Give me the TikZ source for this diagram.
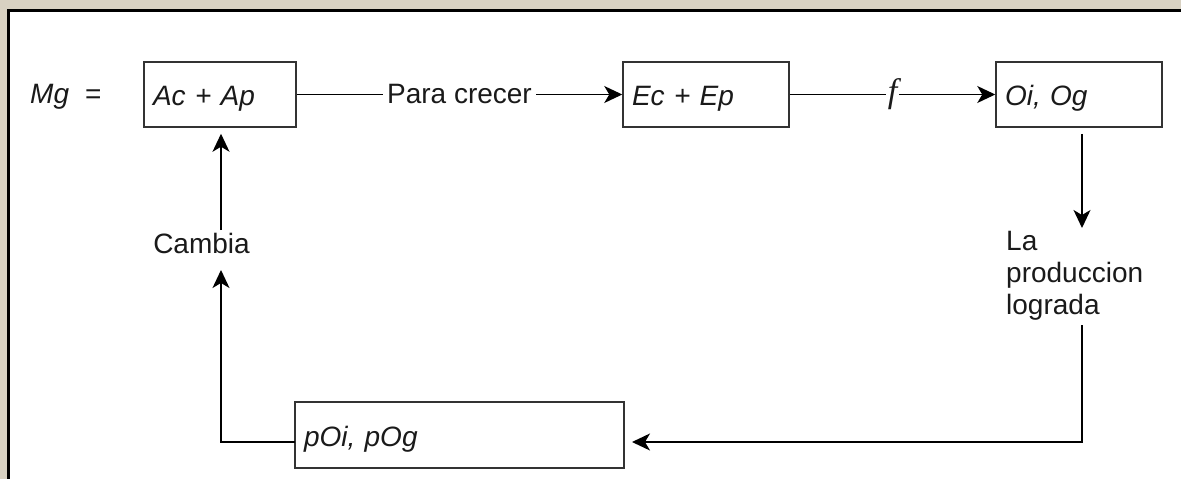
\documentclass[tikz,border=0pt]{standalone}
\usepackage{fontspec}
\setmainfont{Liberation Sans}
\newfontfamily\serifit{Liberation Serif}
\usetikzlibrary{arrows.meta}
\definecolor{bgbeige}{HTML}{D8D1C2}
\definecolor{boxline}{HTML}{333333}
\definecolor{txt}{HTML}{1A1A1A}
\tikzset{
  box/.style={draw=boxline, line width=1.5pt, minimum height=65pt, inner xsep=9pt, inner ysep=0pt,
    text height=24pt, text depth=2pt,
    align=left, font=\fontsize{28}{33}\selectfont\itshape, text=txt},
  lbl/.style={font=\fontsize{28}{32}\selectfont, inner sep=0pt, text=txt},
  onlbl/.style={lbl, fill=white, inner xsep=4pt, inner ysep=2pt},
  conn/.style={draw=black, line width=1.4pt},
  arr/.style={conn, -{Stealth[length=18pt,width=17pt,inset=5pt]}},
}
\begin{document}
\begin{tikzpicture}[x=1pt,y=-1pt]
  \useasboundingbox (0,0) rectangle (1181,479);
  \clip (0,0) rectangle (1181,479);
  \fill[bgbeige] (-10,-10) rectangle (1200,500);
  \fill[white] (8,10) rectangle (1200,500);
  \draw[line width=3pt, black] (1200,10) -- (8,10) -- (8,500);

  \node[lbl, anchor=west] (mg) at (30,97) {\textit{Mg}\hspace{16pt}=};

  \node[box, text width=134pt] (ac) at (220,94.5) {Ac + Ap};
  \node[box, text width=148pt] (ec) at (706,94.5) {Ec + Ep};
  \node[box, text width=148pt] (oi) at (1079,94.5) {Oi, Og};
  \node[box, text width=311pt, minimum height=66pt] (poi) at (459.5,435) {pOi, pOg};

  \draw[arr] (ac.east) -- node[onlbl] (pc) {Para crecer} (ec.west);
  \draw[arr] (ec.east) -- node[onlbl, inner xsep=2pt, font=\fontsize{34}{36}\selectfont\serifit\itshape] (ff) {f} (oi.west);

  % right side
  \node[lbl, align=left, anchor=north west] (lpl) at (1006,231) {La\\produccion\\lograda};
  \coordinate (r1) at (1082,228);
  \coordinate (r2) at (1082,325);
  \coordinate (r3) at (1082,442);
  \coordinate (r4) at (624,442);
  \draw[arr, shorten <=6pt] (oi.south -| r1) -- (r1);
  \draw[arr, shorten >=8pt] (r2) -- (r3) -- (r4);

  % left side
  \node[lbl] (cambia) at (201.5,243) {Cambia};
  \coordinate (l1) at (295,442);
  \coordinate (l2) at (221,442);
  \coordinate (l3) at (221,270);
  \coordinate (l4) at (221,230);
  \draw[arr] (l1) -- (l2) -- (l3);
  \draw[arr, shorten >=6pt] (l4) -- (ac.south -| l4);
\end{tikzpicture}
\end{document}
